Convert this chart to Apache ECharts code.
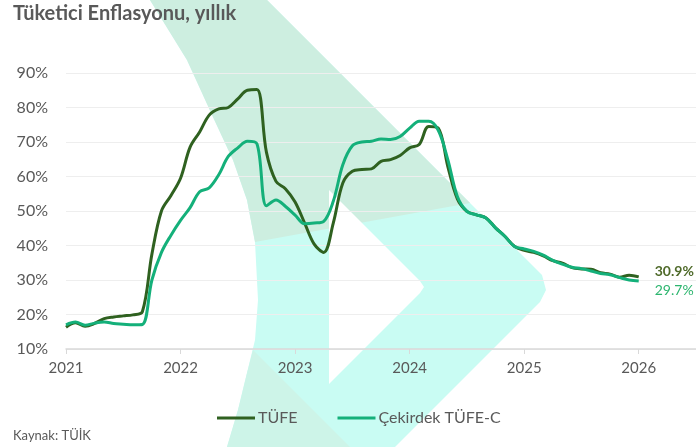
<!DOCTYPE html>
<html><head><meta charset="utf-8">
<script src="https://cdn.jsdelivr.net/npm/echarts@6/dist/echarts.min.js"></script>
<style>html,body{margin:0;padding:0;background:#fff}#c{width:696px;height:447px}</style>
</head><body><div id="c"></div>
<script>
var yearLabels = ['2021','2022','2023','2024','2025','2026'];
var tufe = [16.3,17.6,16.6,17.4,18.8,19.3,19.6,19.9,20.8,37.5,50.0,54.5,59.5,68.5,72.9,77.8,79.6,80.0,82.5,85.0,85.2,67.0,58.6,56.4,52.6,46.5,40.4,38.0,46.5,58.1,61.5,62.0,62.2,64.4,64.9,66.1,68.3,69.3,74.5,74.0,62.9,53.5,49.9,48.9,48.0,45.1,42.6,39.7,38.6,38.0,37.0,35.6,34.9,33.6,33.2,33.1,32.1,31.7,30.8,31.4,30.9];
var core = [17.0,17.8,16.9,17.5,17.8,17.4,17.2,17.0,17.1,30.0,38.0,43.0,47.3,51.0,55.6,56.7,60.5,65.8,68.3,70.2,69.5,51.5,53.2,51.3,48.8,46.3,46.5,47.0,52.8,63.4,68.9,70.0,70.2,70.9,70.7,71.6,74.0,76.0,76.0,73.4,64.9,54.2,49.9,48.9,48.0,45.1,42.6,39.7,39.0,38.3,37.2,35.7,34.6,33.7,33.3,32.6,31.9,31.5,30.7,30.0,29.7];
var seriesNames = ['TÜFE','Çekirdek TÜFE-C'];
var endLabels = ['30.9%','29.7%'];

var FONT = 'Lato, "Open Sans", sans-serif';
var TXT = '#595959';
var DARK = '#2f6120';
var LIGHT = '#14b07a';

// monthly categories Jan 2021 .. Jul 2026
var categories = [];
for (var y = 2021; y <= 2026; y++) {
  for (var m = 1; m <= 12; m++) {
    if (y === 2026 && m > 7) break;
    categories.push(y + '-' + (m < 10 ? '0' + m : m));
  }
}

var SAGE = '#cdeee0', CYAN = '#c9fcf3';
var chart = echarts.init(document.getElementById('c'));
chart.setOption({
  animation: false,
  backgroundColor: '#fff',
  graphic: [
    {type: 'polygon', z: -10, silent: true, shape: {points: [[150,0],[267,0],[542,275],[546,290],[540,302],[395,447],[227,447],[238,410],[247,373],[255,340],[258,300],[255,242],[247,200],[233,160],[213,117],[187,60]]}, style: {fill: CYAN}},
    {type: 'polygon', z: -9, silent: true, shape: {points: [[150,0],[267,0],[470,203],[255,242],[247,200],[233,160],[213,117],[187,60]]}, style: {fill: SAGE}},
    {type: 'polygon', z: -9, silent: true, shape: {points: [[253,350],[350,447],[227,447],[238,410],[247,373]]}, style: {fill: '#cdf4e8'}},
    {type: 'polygon', z: -8, silent: true, shape: {points: [[329,190],[420,281],[424,287],[420,293],[329,384]]}, style: {fill: '#fff'}},
    {type: 'text', left: 13, top: 4, style: {text: 'Tüketici Enflasyonu, yıllık', fill: TXT, font: 'bold 20px ' + FONT}},
    {type: 'text', left: 13, top: 429, style: {text: 'Kaynak: TÜİK', fill: TXT, font: '13px ' + FONT}}
  ],
  legend: {
    left: 212, top: 405, itemWidth: 38, itemHeight: 3, itemGap: 40, icon: 'rect',
    textStyle: {color: TXT, fontFamily: FONT, fontSize: 16, padding: [0,0,0,-2]},
    data: seriesNames
  },
  grid: {left: 66, right: 0, top: 73, bottom: 98, containLabel: false},
  xAxis: {
    type: 'category', data: categories, boundaryGap: false,
    axisLine: {lineStyle: {color: '#d9d9d9', width: 1.5}},
    axisTick: {show: true, length: 5, lineStyle: {color: '#d9d9d9'}, interval: function (i) { return i % 12 === 0; }},
    axisLabel: {interval: function (i) { return i % 12 === 0; }, color: TXT, fontFamily: FONT, fontSize: 15, margin: 12,
      formatter: function (v, i) { return yearLabels[Math.round(i / 12)]; }},
    splitLine: {show: false}
  },
  yAxis: {
    type: 'value', min: 10, max: 90, interval: 10,
    axisLine: {show: false}, axisTick: {show: false},
    axisLabel: {color: TXT, fontFamily: FONT, fontSize: 16, margin: 18, formatter: '{value}%'},
    splitLine: {lineStyle: {color: '#eeeeee', width: 1}}
  },
  series: [
    {name: seriesNames[0], type: 'line', data: tufe, smooth: 0.35,
      showSymbol: false, symbol: 'none', lineStyle: {color: DARK, width: 3}, itemStyle: {color: DARK}, z: 2,
      endLabel: {show: true, formatter: endLabels[0], color: '#4f6a2a', fontFamily: FONT, fontSize: 14, fontWeight: 'bold', distance: 16, offset: [0, -5]}},
    {name: seriesNames[1], type: 'line', data: core, smooth: 0.35,
      showSymbol: false, symbol: 'none', lineStyle: {color: LIGHT, width: 3}, itemStyle: {color: LIGHT}, z: 3,
      endLabel: {show: true, formatter: endLabels[1], color: '#2cb56e', fontFamily: FONT, fontSize: 14, distance: 16, offset: [0, 9]}}
  ]
});
</script></body></html>
